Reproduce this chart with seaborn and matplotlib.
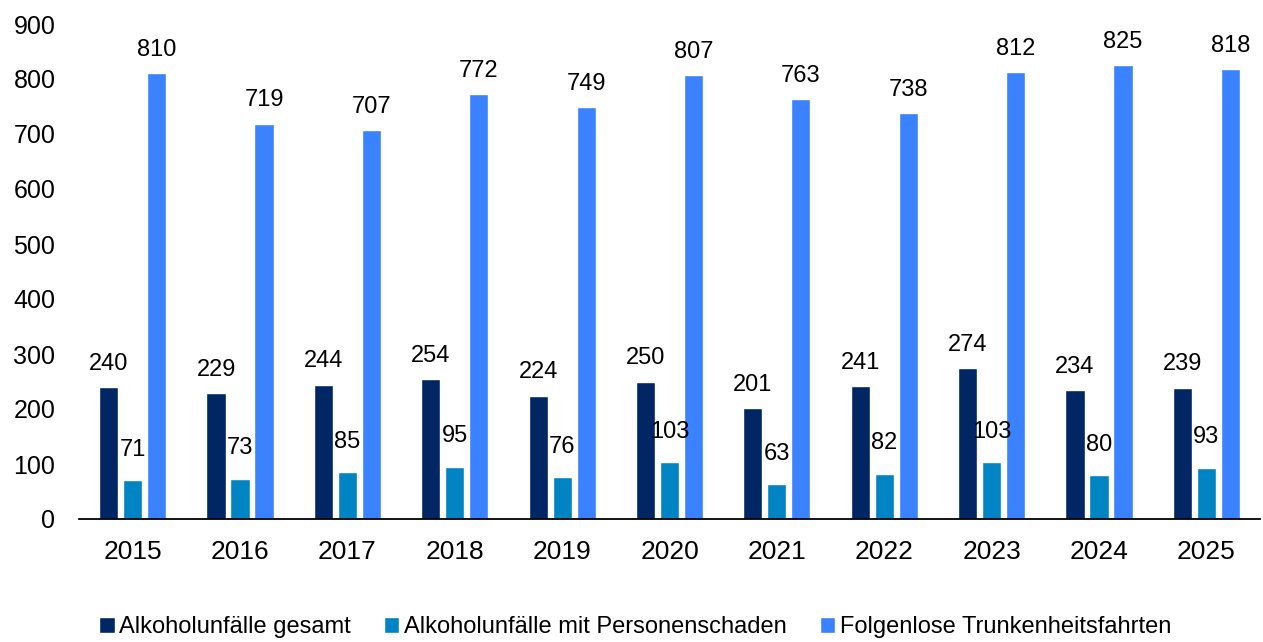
import matplotlib
matplotlib.use("Agg")
import matplotlib.pyplot as plt
import pandas as pd
import seaborn as sns

years = ["2015", "2016", "2017", "2018", "2019", "2020", "2021", "2022", "2023", "2024", "2025"]
gesamt = [240, 229, 244, 254, 224, 250, 201, 241, 274, 234, 239]
personenschaden = [71, 73, 85, 95, 76, 103, 63, 82, 103, 80, 93]
folgenlos = [810, 719, 707, 772, 749, 807, 763, 738, 812, 825, 818]

series = ["Alkoholunfälle gesamt", "Alkoholunfälle mit Personenschaden",
          "Folgenlose Trunkenheitsfahrten"]
colors = ["#002663", "#0084c4", "#3a82ff"]

df = pd.DataFrame({
    "Jahr": years * 3,
    "Wert": gesamt + personenschaden + folgenlos,
    "Serie": [series[0]] * 11 + [series[1]] * 11 + [series[2]] * 11,
})

sns.set_style("white")
plt.rcParams["font.family"] = ["Liberation Sans", "DejaVu Sans"]

fig = plt.figure(figsize=(12.63, 6.42), dpi=100)
ax = fig.add_axes([79 / 1263, 123 / 642, 1181 / 1263, 495 / 642])

sns.barplot(data=df, x="Jahr", y="Wert", hue="Serie", palette=colors,
            width=0.67, gap=0.2, saturation=1, ax=ax, legend=True)

# data labels
pads = [9, 14, 9]
for cont, pad in zip(ax.containers, pads):
    ax.bar_label(cont, padding=pad, fontsize=17, color="black", clip_on=False)

ax.set_ylim(0, 900)
ax.set_xlim(-0.5, 10.5)
ax.set_yticks(range(0, 901, 100))
ax.set_xlabel("")
ax.set_ylabel("")
ax.tick_params(axis="y", length=0, pad=17, labelsize=18, labelcolor="black")
ax.tick_params(axis="x", length=0, pad=15, labelsize=19, labelcolor="black")
for s in ["top", "right", "left"]:
    ax.spines[s].set_visible(False)
ax.spines["bottom"].set_color("black")
ax.spines["bottom"].set_linewidth(1.3)

handles, labels = ax.get_legend_handles_labels()
ax.get_legend().remove()
leg = fig.legend(handles, labels, loc="center", bbox_to_anchor=(0.503, 15 / 642), ncol=3,
                 frameon=False, fontsize=17, handlelength=0.65, handleheight=0.65,
                 handletextpad=0.2, columnspacing=1.4)
for t in leg.get_texts():
    t.set_color("black")

fig.savefig("out.png", dpi=100)
